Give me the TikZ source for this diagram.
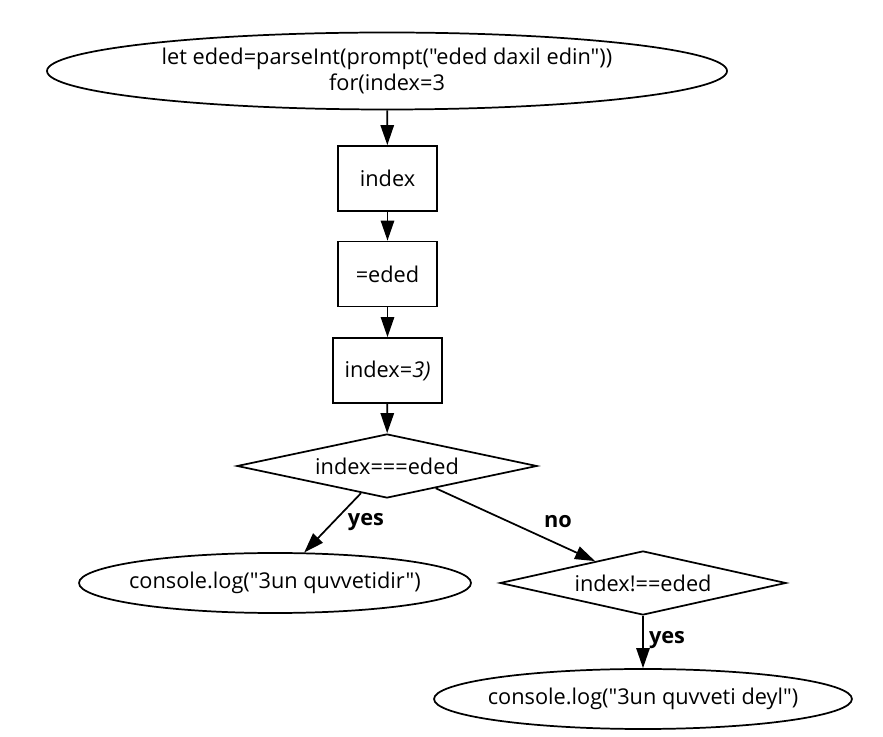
\documentclass[tikz,border=0pt]{standalone}
\usepackage{fontspec}
\setmainfont{Open Sans}[Ligatures=TeXOff]
\usetikzlibrary{shapes.geometric,arrows.meta}
\begin{document}
\begin{tikzpicture}[x=0.75pt,y=-0.75pt,
  every node/.style={font=\fontsize{16.3}{19}\selectfont, inner sep=0pt, align=center},
  shp/.style={draw, line width=1.3pt},
  ell/.style={shp, ellipse},
  boxnode/.style={shp, rectangle, minimum height=48.75pt},
  dia/.style={shp, diamond, minimum height=48pt},
  lbl/.style={font=\fontsize{16.3}{19}\selectfont\bfseries},
  conn/.style={line width=1.3pt, -{Triangle[length=15pt,width=10pt]}}]
\useasboundingbox (0,0) rectangle (883,737);
\node[ell, minimum width=510pt, minimum height=57.75pt] (start) at (387,71) {};
\node (t0) at (start.center)
  {let eded=parseInt(prompt("eded daxil edin"))\\for(index=3};
\node[boxnode, minimum width=74.25pt] (idx) at (387.5,178.5) {index};
\node[boxnode, minimum width=74.25pt] (eded) at (387.5,274) {=eded};
\node[boxnode, minimum width=81.75pt] (idx3) at (387.5,370.5) {index=\textit{3)}};
\node[dia, minimum width=225pt] (d1) at (387,466) {};
\node (t1) at (d1.center) {index===eded};
\node[ell, minimum width=294pt, minimum height=45pt] (e2) at (275,583) {};
\node (t3) at (e2.center) {console.log("3un quvvetidir")};
\node[dia, minimum width=214.5pt] (d2) at (643,583) {};
\node (t2) at (d2.center) {index!==eded};
\node[ell, minimum width=313.5pt, minimum height=45pt] (e3) at (643,699) {};
\node (t4) at (e3.center) {console.log("3un quvveti deyl")};
\draw[conn] (start) -- (idx);
\draw[conn] (idx) -- (eded);
\draw[conn] (eded) -- (idx3);
\draw[conn] (idx3) -- (d1);
\draw[conn] (d1) -- (e2);
\draw[conn] (d1) -- (d2);
\draw[conn] (d2) -- (e3);
\node[lbl] (l1) at (366,522) {yes};
\node[lbl] (l2) at (558,522) {no};
\node[lbl] (l3) at (667,640) {yes};
\end{tikzpicture}
\end{document}
